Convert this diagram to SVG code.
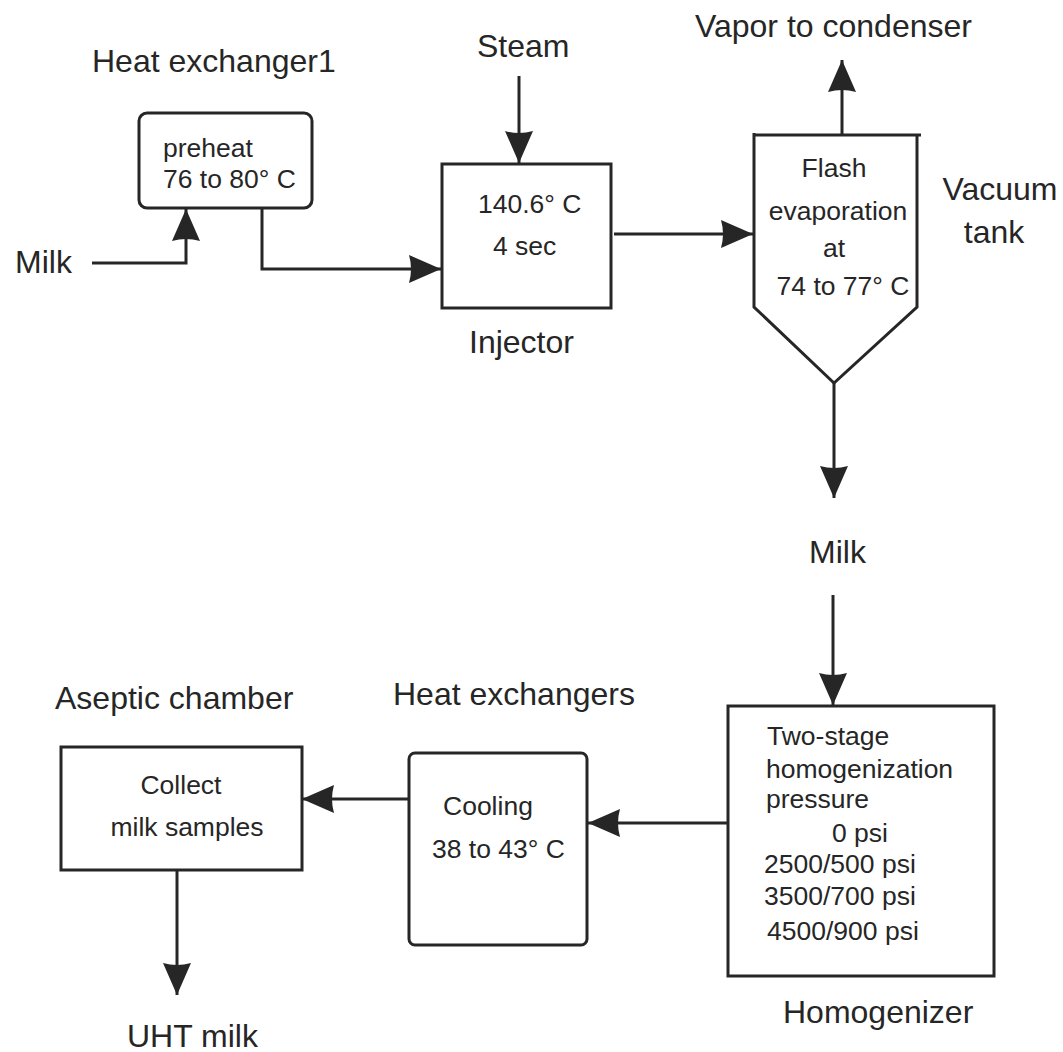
<svg xmlns="http://www.w3.org/2000/svg" width="1063" height="1052" viewBox="0 0 1063 1052">
<style>
  text { font-family: "Liberation Sans", Arial, sans-serif; fill: #262626; }
  .lbl { font-size: 32px; }
  .in { font-size: 26.5px; }
  .box { fill: none; stroke: #262626; stroke-width: 3; }
  .con { fill: none; stroke: #262626; stroke-width: 3; marker-end: url(#ah); }
</style>
<defs>
  <marker id="ah" viewBox="0 0 32 28" refX="32" refY="14" markerWidth="32" markerHeight="28" markerUnits="userSpaceOnUse" orient="auto">
    <path d="M0,0 L32,14 L0,28 Q4,14 0,0 Z" fill="#262626"/>
  </marker>
</defs>
<rect width="1063" height="1052" fill="#ffffff"/>

<g id="connectors">
  <polyline class="con" points="92,263 186,263 186,209"/>
  <polyline class="con" points="262,208 262,269 441,269"/>
  <line class="con" x1="519" y1="76" x2="519" y2="163"/>
  <line class="con" x1="614" y1="234" x2="753" y2="234"/>
  <line class="con" x1="842" y1="135" x2="842" y2="60"/>
  <line class="con" x1="834" y1="383" x2="834" y2="498"/>
  <line class="con" x1="833" y1="595" x2="833" y2="705"/>
  <line class="con" x1="728" y1="823" x2="588" y2="823"/>
  <line class="con" x1="409" y1="799" x2="302" y2="799"/>
  <line class="con" x1="177" y1="870" x2="177" y2="995"/>
</g>

<g id="milk-in">
  <text class="lbl" x="15" y="273">Milk</text>
</g>

<g id="heat-exchanger1">
  <text class="lbl" x="92" y="72">Heat exchanger1</text>
  <rect class="box" x="139" y="113" width="173" height="95" rx="8"/>
  <text class="in" x="163" y="157">preheat</text>
  <text class="in" x="163" y="188">76 to 80° C</text>
</g>

<g id="steam">
  <text class="lbl" x="477" y="57">Steam</text>
</g>

<g id="injector">
  <rect class="box" x="442" y="164" width="169" height="144"/>
  <text class="in" x="478" y="213">140.6° C</text>
  <text class="in" x="493" y="255">4 sec</text>
  <text class="lbl" x="469" y="353">Injector</text>
</g>

<g id="vapor">
  <text class="lbl" x="695" y="37">Vapor to condenser</text>
</g>

<g id="vacuum-tank">
  <path class="box" d="M754,135 L921,135 M754,133 L754,307 L834,383 L917,307 L917,135"/>
  <text class="in" x="834" y="177" text-anchor="middle">Flash</text>
  <text class="in" x="838" y="220" text-anchor="middle">evaporation</text>
  <text class="in" x="834" y="257" text-anchor="middle">at</text>
  <text class="in" x="843" y="295" text-anchor="middle">74  to 77° C</text>
  <text class="lbl" x="1000" y="200" text-anchor="middle">Vacuum</text>
  <text class="lbl" x="994" y="243" text-anchor="middle">tank</text>
</g>

<g id="milk-mid">
  <text class="lbl" x="809" y="563">Milk</text>
</g>

<g id="homogenizer">
  <rect class="box" x="728" y="706" width="266" height="270"/>
  <text class="in" x="767" y="745">Two-stage</text>
  <text class="in" x="766" y="778">homogenization</text>
  <text class="in" x="766" y="808">pressure</text>
  <text class="in" x="832" y="842">0 psi</text>
  <text class="in" x="764" y="873">2500/500 psi</text>
  <text class="in" x="764" y="905">3500/700 psi</text>
  <text class="in" x="767" y="940">4500/900 psi</text>
  <text class="lbl" x="783" y="1023">Homogenizer</text>
</g>

<g id="heat-exchangers">
  <text class="lbl" x="393" y="705">Heat exchangers</text>
  <rect class="box" x="409" y="753" width="178" height="192" rx="6"/>
  <text class="in" x="443" y="815">Cooling</text>
  <text class="in" x="432" y="858">38 to 43° C</text>
</g>

<g id="aseptic-chamber">
  <text class="lbl" x="55" y="709">Aseptic chamber</text>
  <rect class="box" x="61" y="747" width="241" height="123"/>
  <text class="in" x="181" y="794" text-anchor="middle">Collect</text>
  <text class="in" x="187" y="836" text-anchor="middle">milk samples</text>
</g>

<g id="uht-milk">
  <text class="lbl" x="127" y="1047">UHT milk</text>
</g>
</svg>
